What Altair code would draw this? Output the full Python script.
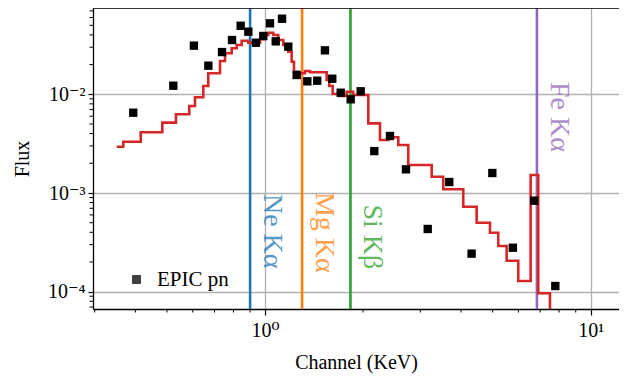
import altair as alt
import pandas as pd

# ---------------- data ----------------
point_energy = [0.394, 0.523, 0.605, 0.670, 0.738, 0.792, 0.842, 0.889, 0.938, 0.988,
                1.036, 1.079, 1.128, 1.179, 1.251, 1.349, 1.447, 1.528, 1.609, 1.708,
                1.833, 1.967, 2.166, 2.420, 2.710, 3.16, 3.68, 4.31, 4.99, 5.77,
                6.71, 7.79]
point_flux = [6.51e-3, 1.222e-2, 3.11e-2, 1.95e-2, 2.68e-2, 3.55e-2, 4.95e-2, 4.31e-2, 3.33e-2, 3.90e-2,
              5.24e-2, 3.44e-2, 5.83e-2, 3.04e-2, 1.57e-2, 1.354e-2, 1.373e-2, 2.79e-2, 1.439e-2, 1.038e-2,
              8.90e-3, 1.073e-2, 2.66e-3, 3.78e-3, 1.738e-3, 4.32e-4, 1.292e-3, 2.43e-4, 1.594e-3, 2.79e-4,
              8.36e-4, 1.142e-4]

model_energy = [0.3505, 0.3672, 0.4153, 0.4839, 0.5329, 0.5855, 0.6095, 0.6464, 0.6696, 0.7276,
                0.7537, 0.7901, 0.8187, 0.8481, 0.8887, 0.9653, 1.0, 1.0236, 1.0604, 1.0986,
                1.1381, 1.1791, 1.2075, 1.2274, 1.2654, 1.3269, 1.3747, 1.5468, 1.5755, 1.6136,
                1.6912, 1.7819, 1.8665, 2.0762, 2.2548, 2.3911, 2.5665, 2.7541, 3.2498, 3.5274,
                4.0626, 4.4666, 4.9076, 5.2038, 5.5215, 5.9941, 6.5435, 6.9041, 7.5, 8.6]
model_flux = [2.94e-3, 3.31e-3, 4.12e-3, 5.16e-3, 6.27e-3, 7.61e-3, 9.33e-3, 1.214e-2, 1.632e-2, 2.175e-2,
              2.602e-2, 2.924e-2, 3.158e-2, 3.49e-2, 3.33e-2, 3.61e-2, 3.99e-2, 4.21e-2, 3.99e-2, 3.55e-2,
              3.16e-2, 2.70e-2, 2.14e-2, 1.694e-2, 1.632e-2, 1.722e-2, 1.671e-2, 1.396e-2, 1.214e-2, 1.007e-2,
              9.61e-3, 1.062e-2, 9.84e-3, 5.08e-3, 3.44e-3, 3.67e-3, 3.06e-3, 1.922e-3, 1.463e-3, 1.090e-3,
              7.26e-4, 5.00e-4, 3.96e-4, 2.90e-4, 2.06e-4, 1.283e-4, 1.522e-3, 9.63e-5, 2e-5, 2e-5]

line_energy = [0.90, 1.30, 1.83, 6.84]
line_label = ["Ne Kα", "Mg Kα", "Si Kβ", "Fe Kα"]
line_label_flux = [4.1e-4, 4.0e-4, 3.6e-4, 5.9e-3]
line_color = ["#1f77b4", "#ff7f0e", "#2ca02c", "#9467bd"]

x_major = [1, 10]
x_minor = [0.3, 0.4, 0.5, 0.6, 0.7, 0.8, 0.9, 2, 3, 4, 5, 6, 7, 8, 9]
y_major = [1e-4, 1e-3, 1e-2]
y_minor = [7e-5, 8e-5, 9e-5,
           2e-4, 3e-4, 4e-4, 5e-4, 6e-4, 7e-4, 8e-4, 9e-4,
           2e-3, 3e-3, 4e-3, 5e-3, 6e-3, 7e-3, 8e-3, 9e-3,
           2e-2, 3e-2, 4e-2, 5e-2, 6e-2, 7e-2]

# ---------------- layout ----------------
W, H = 526, 301
FONT = "Liberation Serif, DejaVu Serif, serif"
x_domain = [0.2964, 12.22]
y_domain = [6.68e-5, 0.0749]

xs = alt.Scale(type="log", domain=x_domain, nice=False)
ys = alt.Scale(type="log", domain=y_domain, nice=False)

pts = pd.DataFrame({"E": point_energy, "F": point_flux, "series": ["EPIC pn"] * len(point_energy)})
mdl = pd.DataFrame({"E": model_energy, "F": model_flux})
lines = pd.DataFrame({"E": line_energy, "label": line_label, "F": line_label_flux, "c": line_color})

x_axis = alt.Axis(values=x_major, labelExpr="datum.value < 5 ? '10⁰' : '10¹'",
                  grid=True, title="Channel (KeV)")
y_axis = alt.Axis(values=y_major,
                  labelExpr="datum.value < 0.0005 ? '10⁻⁴' : datum.value < 0.005 ? '10⁻³' : '10⁻²'",
                  grid=True, title="Flux")

X = alt.X("E:Q", scale=xs, axis=x_axis)
Y = alt.Y("F:Q", scale=ys, axis=y_axis)

points = alt.Chart(pts).mark_square(size=70, filled=True, opacity=1).encode(
    x=X, y=Y,
    color=alt.Color("series:N", scale=alt.Scale(domain=["EPIC pn"], range=["#000000"]),
                    legend=alt.Legend(orient="none", legendX=33, legendY=261, title=None,
                                      symbolType="square", symbolSize=64,
                                      symbolFillColor="#000000", symbolStrokeColor="#000000",
                                      symbolStrokeWidth=1, symbolOpacity=1,
                                      labelFont=FONT, labelFontSize=21, labelColor="black",
                                      labelOffset=10, padding=0)),
)

model = alt.Chart(mdl).mark_line(interpolate="step-after", color="#d62728",
                                 strokeWidth=2.6, clip=True).encode(x=X, y=Y)

vlines = alt.Chart(lines).mark_rule(strokeWidth=2.6).encode(
    x=X,
    color=alt.Color("c:N", scale=None),
)

vlabels = alt.Chart(lines).mark_text(angle=90, align="center", baseline="alphabetic",
                                     dy=-14, font=FONT, fontSize=28, opacity=0.75).encode(
    x=X, y=Y,
    text="label:N",
    color=alt.Color("c:N", scale=None),
)

xminor = alt.Chart(pd.DataFrame({"E": x_minor})).mark_rule(color="black", strokeWidth=1).encode(
    x=X,
    y=alt.value(H), y2=alt.value(H + 3.5),
)
yminor = alt.Chart(pd.DataFrame({"F": y_minor})).mark_rule(color="black", strokeWidth=1).encode(
    y=Y,
    x=alt.value(-3.5), x2=alt.value(0),
)
top_spine = alt.Chart(pd.DataFrame({"a": [0]})).mark_rule(color="black", strokeWidth=1.3).encode(
    x=alt.value(0), x2=alt.value(W), y=alt.value(0),
)

chart = alt.layer(vlines, model, points, vlabels, xminor, yminor, top_spine).properties(
    width=W, height=H,
    autosize=alt.AutoSizeParams(type="none"),
    padding={"left": 85, "top": 0, "right": 0, "bottom": 67},
).configure_view(stroke=None).configure(background="white").configure_axis(
    gridColor="#b0b0b0", gridWidth=1.3, gridOpacity=1,
    tickColor="black", tickWidth=1.2,
    domainColor="black", domainWidth=1.3,
    labelFont=FONT, labelFontSize=20, labelColor="black",
    titleFont=FONT, titleFontSize=20, titleFontWeight="normal", titleColor="black",
).configure_axisX(tickSize=6, labelPadding=5, titlePadding=12
).configure_axisY(tickSize=5, labelPadding=3, titlePadding=15)

chart.save("out.html", embed_options={"renderer": "svg", "actions": False})
